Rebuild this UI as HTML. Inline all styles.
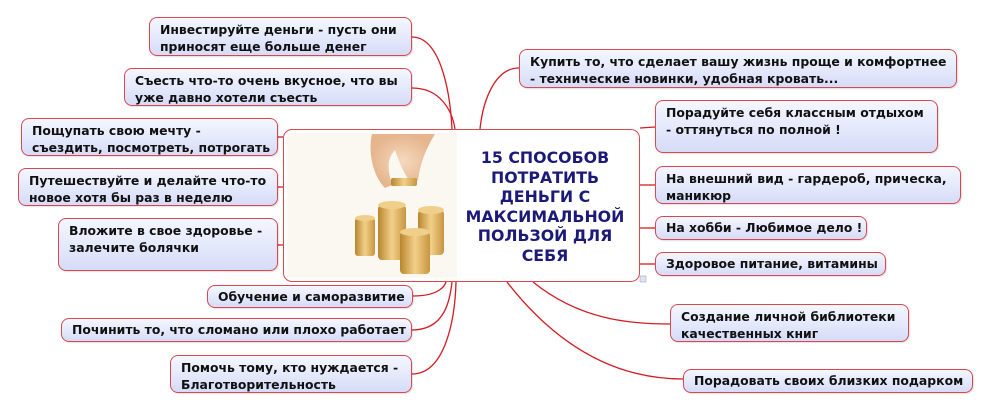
<!DOCTYPE html>
<html><head><meta charset="utf-8"><style>
body{margin:0;width:989px;height:411px;background:#fff;position:relative;overflow:hidden;font-family:"DejaVu Sans","Liberation Sans",sans-serif;}
.n{position:absolute;box-sizing:border-box;border:1.5px solid #d9474f;border-radius:8px;background:linear-gradient(#f4f7ff,#d6dcf8);font-weight:bold;font-size:12.4px;line-height:17px;color:#111;padding:3px 0 0 10px;box-shadow:1px 1px 1px rgba(0,0,0,.12);white-space:nowrap}
svg{position:absolute;left:0;top:0}
.c{position:absolute;left:283px;top:129px;width:357px;height:153px;box-sizing:border-box;border:1.5px solid #d9474f;border-radius:9px;background:#fff}
.t{position:absolute;left:455px;top:148px;width:180px;text-align:center;font-weight:bold;font-size:15.8px;line-height:19.5px;color:#1c1a78}
</style></head><body>
<svg width="989" height="411" fill="none" stroke="#d41c24" stroke-width="1.3">
<path d="M412 37 C440 37 450 90 452 129"/>
<path d="M412 88 C440 88 452 110 455 129"/>
<path d="M278 137 L283 137"/>
<path d="M278 187 L283 187"/>
<path d="M278 245 L283 245"/>
<path d="M519 68 C495 68 483 100 480 129"/>
<path d="M640 128 L655 127"/>
<path d="M640 185 L655 185"/>
<path d="M640 228 L655 228"/>
<path d="M640 264 L655 264"/>
<path d="M413 296 C440 296 445 285 446 282"/>
<path d="M412 330 C445 330 450 300 452 282"/>
<path d="M412 374 C445 374 455 320 456 282"/>
<path d="M533 282 C580 320 630 324 670 324"/>
<path d="M507 282 C560 350 620 379 683 379"/>
</svg>
<div class="c"></div>
<svg width="989" height="411">
<defs><linearGradient id="g" x1="0" x2="1"><stop offset="0" stop-color="#b8862e"/><stop offset=".5" stop-color="#f2d08a"/><stop offset="1" stop-color="#c79540"/></linearGradient>
<radialGradient id="h"><stop offset="0" stop-color="#f6d9bf"/><stop offset="1" stop-color="#e5b58d"/></radialGradient></defs>
<rect x="287" y="133" width="170" height="145" fill="#fbf8f2"/>
<path d="M372 134 C368 150 372 175 385 188 L392 185 C388 170 386 160 395 150 C400 165 405 175 412 185 L418 180 C420 165 425 150 435 134Z" fill="url(#h)"/>
<rect x="391" y="178" width="26" height="8" rx="2" fill="url(#g)"/>
<rect x="355" y="218" width="20" height="38" rx="3" fill="url(#g)"/>
<rect x="378" y="205" width="28" height="55" rx="4" fill="url(#g)"/>
<rect x="418" y="210" width="26" height="45" rx="4" fill="url(#g)"/>
<rect x="400" y="232" width="30" height="42" rx="4" fill="url(#g)"/>
<ellipse cx="392" cy="205" rx="14" ry="4" fill="#f0cf8a"/>
<ellipse cx="431" cy="210" rx="13" ry="4" fill="#f0cf8a"/>
<ellipse cx="415" cy="232" rx="15" ry="4" fill="#f0cf8a"/>
<ellipse cx="365" cy="218" rx="10" ry="3" fill="#f0cf8a"/>
<rect x="640" y="276" width="6" height="6" fill="#dde3f3" stroke="#99a" stroke-width=".5"/>
</svg>
<div class="t">15 СПОСОБОВ<br>ПОТРАТИТЬ<br>ДЕНЬГИ С<br>МАКСИМАЛЬНОЙ<br>ПОЛЬЗОЙ ДЛЯ<br>СЕБЯ</div>

<div class="n" style="left:149px;top:17px;width:263px;height:39px">Инвестируйте деньги - пусть они<br>приносят еще больше денег</div>
<div class="n" style="left:124px;top:68px;width:288px;height:38px">Съесть что-то очень вкусное, что вы<br>уже давно хотели съесть</div>
<div class="n" style="left:21px;top:118px;width:257px;height:38px">Пощупать свою мечту -<br>съездить, посмотреть, потрогать</div>
<div class="n" style="left:18px;top:168px;width:260px;height:38px">Путешествуйте и делайте что-то<br>новое хотя бы раз в неделю</div>
<div class="n" style="left:58px;top:218px;width:220px;height:53px">Вложите в свое здоровье -<br>залечите болячки</div>
<div class="n" style="left:207px;top:285px;width:206px;height:23px;padding-top:2px">Обучение и саморазвитие</div>
<div class="n" style="left:61px;top:318px;width:351px;height:24px;padding-top:2px">Починить то, что сломано или плохо работает</div>
<div class="n" style="left:170px;top:355px;width:242px;height:38px">Помочь тому, кто нуждается -<br>Благотворительность</div>

<div class="n" style="left:519px;top:49px;width:438px;height:39px">Купить то, что сделает вашу жизнь проще и комфортнее<br>- технические новинки, удобная кровать...</div>
<div class="n" style="left:655px;top:100px;width:283px;height:53px">Порадуйте себя классным отдыхом<br>- оттянуться по полной !</div>
<div class="n" style="left:655px;top:166px;width:306px;height:38px">На внешний вид - гардероб, прическа,<br>маникюр</div>
<div class="n" style="left:655px;top:216px;width:212px;height:24px;padding-top:2px">На хобби - Любимое дело !</div>
<div class="n" style="left:655px;top:252px;width:231px;height:24px;padding-top:2px">Здоровое питание, витамины</div>
<div class="n" style="left:670px;top:304px;width:239px;height:38px">Создание личной библиотеки<br>качественных книг</div>
<div class="n" style="left:683px;top:369px;width:290px;height:24px;padding-top:2px">Порадовать своих близких подарком</div>
</body></html>
